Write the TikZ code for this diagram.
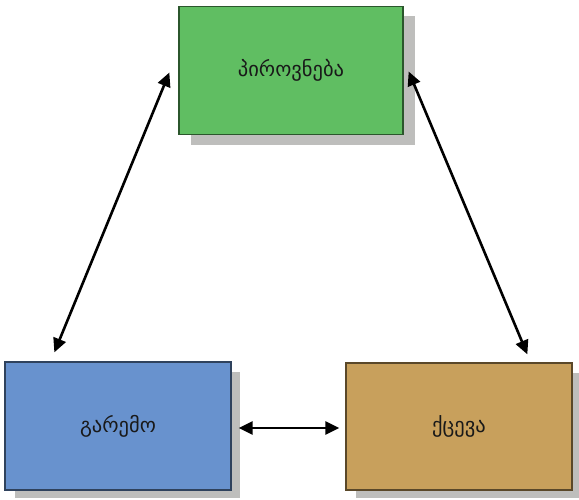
\documentclass[tikz,border=0pt]{standalone}
\usepackage{fontspec}
\newfontfamily\geo{DejaVu Sans}
\usetikzlibrary{arrows.meta,calc}
\definecolor{persgreen}{RGB}{96,190,98}
\definecolor{envblue}{RGB}{104,146,206}
\definecolor{behtan}{RGB}{200,160,92}
\definecolor{shadowgray}{RGB}{190,190,188}
\tikzset{
  card/.style={draw=#1!45!black, fill=#1, line width=1.3pt, minimum width=224pt,
    minimum height=128pt, inner sep=0pt,
    font=\geo\fontsize{20.5}{23}\selectfont, text=black!90},
  link/.style={line width=2.6pt,
    {Triangle[length=14pt,width=13pt]}-{Triangle[length=14pt,width=13pt]}}
}
\begin{document}
\begin{tikzpicture}[x=1pt,y=-1pt]
  \useasboundingbox (0,0) rectangle (579,499);
  % drop shadows
  \fill[shadowgray] (191,16) rectangle (415,145);
  \fill[shadowgray] (15,372) rectangle (240,498);
  \fill[shadowgray] (356,373) rectangle (579,498);
  % boxes
  \node[card=persgreen] (pers) at (291,70.5) {\raisebox{-3pt}{პიროვნება}};
  \node[card=envblue, minimum width=226pt] (env) at (118,426) {გარემო};
  \node[card=behtan, minimum width=226pt, minimum height=127pt] (beh) at (459,426.5) {ქცევა};
  % connector end points
  \coordinate (pl) at ($(pers.west)+(-9,2)$);
  \coordinate (el) at ($(env.north west)+(50,-9)$);
  \coordinate (pr) at ($(pers.east)+(5,1)$);
  \coordinate (br) at ($(beh.north west)+(182,-8)$);
  \coordinate (eh) at ($(env.east)+(7,2)$);
  \coordinate (bh) at ($(beh.west)+(-6,1.5)$);
  \draw[link] (pl) -- (el);
  \draw[link] (pr) -- (br);
  \draw[link] (eh) -- (bh);
\end{tikzpicture}
\end{document}
